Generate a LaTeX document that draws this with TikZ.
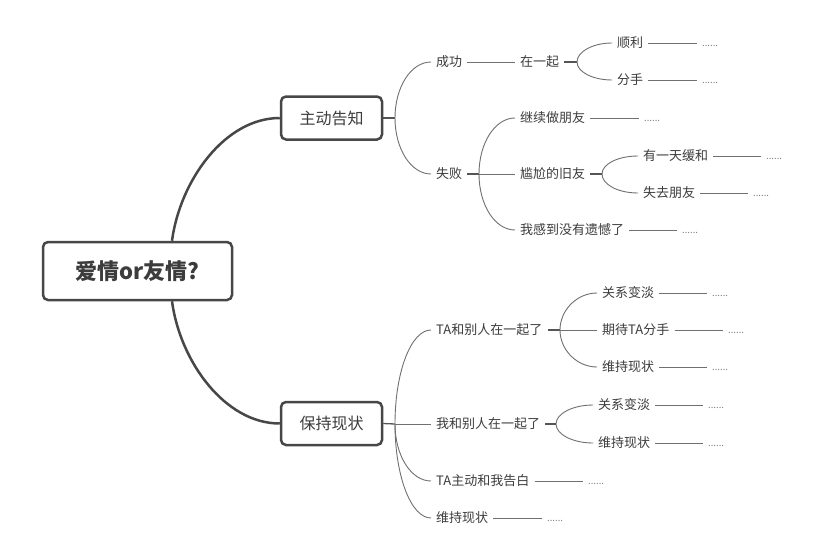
\documentclass[tikz,border=0pt]{standalone}
\usepackage{fontspec}
\setmainfont{Noto Sans CJK SC}
\definecolor{boxc}{HTML}{474747}
\definecolor{txt}{HTML}{3C3C3C}
\definecolor{linec}{HTML}{707070}
\definecolor{stubc}{HTML}{555555}
\definecolor{dotc}{HTML}{808080}
\begin{document}
\begin{tikzpicture}[x=1pt,y=-1pt,
 box/.style={draw=boxc, line width=2.5pt, rounded corners=5pt, fill=white, text=txt, font=\fontsize{16}{18}\selectfont, minimum width=101pt, minimum height=43pt, inner sep=0pt},
 rootbox/.style={box, font=\bfseries\fontsize{22}{25}\selectfont, minimum width=189pt, minimum height=58pt},
 topic/.style={anchor=west, inner xsep=5pt, inner ysep=0pt, text=txt, font=\fontsize{13}{15}\selectfont, text height=11pt, text depth=2pt},
 dots/.style={anchor=base west, inner xsep=5pt, inner ysep=0pt, text=dotc, font=\fontsize{9.5}{11}\selectfont},
 mainc/.style={draw=boxc, line width=2.5pt},
 conn/.style={draw=linec, line width=0.9pt},
 stub/.style={draw=stubc, line width=2pt},
 leaf/.style={draw=linec, line width=0.9pt},
]
\fill[white] (0,0) rectangle (827,538);
\useasboundingbox (0,0) rectangle (827,538);

% boxes
\node[rootbox] (root) at (137.5,271) {爱情or友情?\hspace{14pt}};
\node[box] (zhu) at (331.5,118) {主动告知};
\node[box] (bao) at (331.5,423.5) {保持现状};

\draw[mainc] ([xshift=34.5pt]root.north) .. controls +(8,-60) and +(-55,0) .. (zhu.west);
\draw[mainc] ([xshift=34.5pt]root.south) .. controls +(8,60) and +(-55,0) .. (bao.west);

% split points
\coordinate (sA) at (395,118);
\coordinate (sB) at (577,62);
\coordinate (sC) at (479,174);
\coordinate (sD) at (602,174);
\coordinate (sE) at (395,424);
\coordinate (sF) at (560,330);
\coordinate (sG) at (556,424);

% upper topics
\node[topic] (cg) at (431,62) {成功};
\node[topic] (sb) at (431,174) {失败};
\node[topic] (zyq) at (515,62) {在一起};
\node[topic] (shunli) at (612,43) {顺利};
\node[topic] (fenshou) at (612,80) {分手};
\node[topic] (jixu) at (515,118) {继续做朋友};
\node[topic] (ganga) at (515,174) {尴尬的旧友};
\node[topic] (you) at (638,156) {有一天缓和};
\node[topic] (shiqu) at (638,193) {失去朋友};
\node[topic] (wogan) at (515,230) {我感到没有遗憾了};

% lower topics
\node[topic] (ta) at (431,330) {TA和别人在一起了};
\node[topic] (wohe) at (431,424) {我和别人在一起了};
\node[topic] (tazhu) at (431,481) {TA主动和我告白};
\node[topic] (wc1) at (431,518) {维持现状};
\node[topic] (gx1) at (597,293) {关系变淡};
\node[topic] (qd) at (597,330) {期待TA分手};
\node[topic] (wc2) at (597,367) {维持现状};
\node[topic] (gx2) at (593,405) {关系变淡};
\node[topic] (wc3) at (593,443) {维持现状};

% dots
\node[dots] (d1) at (697,46) {......};
\node[dots] (d2) at (697,83) {......};
\node[dots] (d3) at (639,121) {......};
\node[dots] (d4) at (761,159) {......};
\node[dots] (d5) at (748,196) {......};
\node[dots] (d6) at (677,233) {......};
\node[dots] (d7) at (707,296) {......};
\node[dots] (d8) at (723,333) {......};
\node[dots] (d9) at (707,370) {......};
\node[dots] (d10) at (703,408) {......};
\node[dots] (d11) at (703,446) {......};
\node[dots] (d12) at (583,484) {......};
\node[dots] (d13) at (542,521) {......};

% box to split
\draw[draw=stubc, line width=1.3pt] (zhu.east) -- (sA);
\draw[draw=stubc, line width=1.3pt] (bao.east) -- (sE);

% upper connectors
\draw[conn] (sA) .. controls +(0,-31) and +(-20,0) .. (cg.west);
\draw[conn] (sA) .. controls +(0,31) and +(-20,0) .. (sb.west);
\draw[conn] (cg.east) -- (zyq.west);
\draw[stub] (zyq.east) -- (sB);
\draw[conn] (sB) .. controls +(0,-10.5) and +(-19,0) .. (shunli.west);
\draw[conn] (sB) .. controls +(0,10) and +(-19,0) .. (fenshou.west);
\draw[stub] (sb.east) -- (sC);
\draw[conn] (sC) .. controls +(0,-31) and +(-20,0) .. (jixu.west);
\draw[conn] (sC) -- (ganga.west);
\draw[conn] (sC) .. controls +(0,31) and +(-20,0) .. (wogan.west);
\draw[stub] (ganga.east) -- (sD);
\draw[conn] (sD) .. controls +(0,-10) and +(-20,0) .. (you.west);
\draw[conn] (sD) .. controls +(0,10.5) and +(-20,0) .. (shiqu.west);

% lower connectors
\draw[conn] (sE) .. controls +(0,-52) and +(-20,0) .. (ta.west);
\draw[conn] (sE) -- (wohe.west);
\draw[conn] (sE) .. controls +(0,31.5) and +(-20,0) .. (tazhu.west);
\draw[conn] (sE) .. controls +(0,52) and +(-20,0) .. (wc1.west);
\draw[stub] (ta.east) -- (sF);
\draw[conn] (sF) .. controls +(0,-20) and +(-20,0) .. (gx1.west);
\draw[conn] (sF) -- (qd.west);
\draw[conn] (sF) .. controls +(0,20) and +(-20,0) .. (wc2.west);
\draw[stub] (wohe.east) -- (sG);
\draw[conn] (sG) .. controls +(0,-10.5) and +(-20,0) .. (gx2.west);
\draw[conn] (sG) .. controls +(0,10.5) and +(-20,0) .. (wc3.west);

% leaf lines
\draw[leaf] (shunli.east) -- (shunli.east -| d1.west);
\draw[leaf] (fenshou.east) -- (fenshou.east -| d2.west);
\draw[leaf] (jixu.east) -- (jixu.east -| d3.west);
\draw[leaf] (you.east) -- (you.east -| d4.west);
\draw[leaf] (shiqu.east) -- (shiqu.east -| d5.west);
\draw[leaf] (wogan.east) -- (wogan.east -| d6.west);
\draw[leaf] (gx1.east) -- (gx1.east -| d7.west);
\draw[leaf] (qd.east) -- (qd.east -| d8.west);
\draw[leaf] (wc2.east) -- (wc2.east -| d9.west);
\draw[leaf] (gx2.east) -- (gx2.east -| d10.west);
\draw[leaf] (wc3.east) -- (wc3.east -| d11.west);
\draw[leaf] (tazhu.east) -- (tazhu.east -| d12.west);
\draw[leaf] (wc1.east) -- (wc1.east -| d13.west);
\end{tikzpicture}
\end{document}
